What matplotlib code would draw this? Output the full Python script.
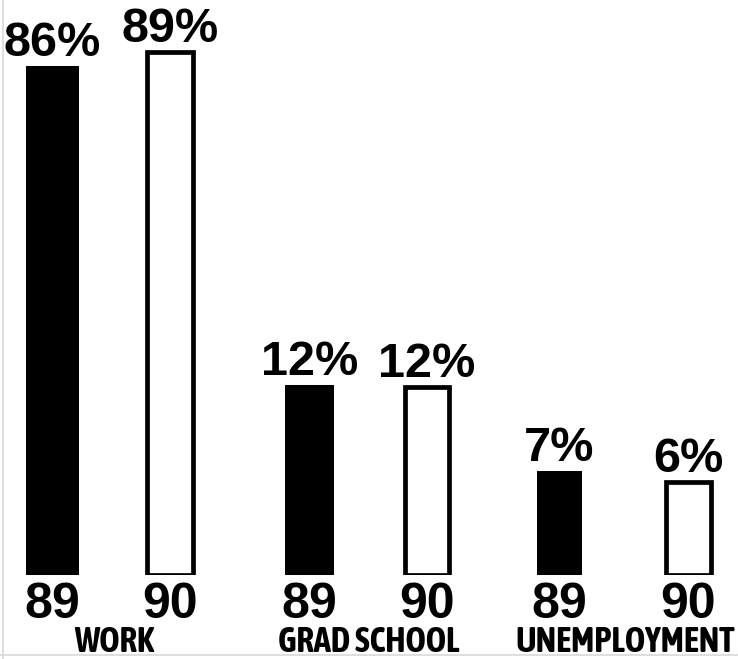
import matplotlib
matplotlib.use("Agg")
import matplotlib.pyplot as plt
from matplotlib.lines import Line2D
from matplotlib import font_manager

# ---- data ----
categories = ["WORK", "GRAD SCHOOL", "UNEMPLOYMENT"]
years = ["89", "90"]
pct_89 = [86, 12, 7]
pct_90 = [89, 12, 6]
# drawn bar heights (chart is not to scale across groups)
height_89 = [509, 190, 104]
height_90 = [523, 188, 93]

# ---- layout ----
W, H, DPI = 738, 659, 100
base_px = 575
x89 = [52, 309.5, 559.5]
x90 = [170, 427, 688.5]
bw89 = [53, 49, 45]
bw90 = [46, 44, 45]
cat_x = [114, 369, 625]

# pick a narrow bold face for the category labels if one is installed
narrow = None
for f in font_manager.fontManager.ttflist:
    if ("Narrow" in f.name or "Condensed" in f.name) and f.weight in ("bold", 700, "700"):
        narrow = f.name
        break
if narrow is None:
    for f in font_manager.fontManager.ttflist:
        if "Narrow" in f.name or "Condensed" in f.name:
            narrow = f.name
            break

fig = plt.figure(figsize=(W / DPI, H / DPI), dpi=DPI)
ax = fig.add_axes([0, (H - base_px) / H, 1, base_px / H])
ax.set_xlim(0, W)
ax.set_ylim(0, base_px)
ax.axis("off")

num_font = dict(family=["Liberation Sans", "DejaVu Sans"], fontweight="bold")
if narrow:
    cat_font = dict(family=[narrow, "Liberation Sans"], fontweight="bold", fontsize=25)
else:
    cat_font = dict(family=["Liberation Sans", "DejaVu Sans"], fontweight="bold", fontsize=18.5)

ax.bar(x89, height_89, width=bw89, color="black", edgecolor="black", linewidth=0)
ax.bar(x90, height_90, width=bw90, color="white", edgecolor="black", linewidth=3.4)

for xs, hs, ps in ((x89, height_89, pct_89), (x90, height_90, pct_90)):
    for x, h, p in zip(xs, hs, ps):
        ax.annotate(f"{p}%", (x, h), xytext=(0, 0), textcoords="offset points",
                    ha="center", va="bottom", fontsize=35, **num_font)

for xs, yr in ((x89, years[0]), (x90, years[1])):
    for x in xs:
        ax.annotate(yr, (x, 0), xytext=(0, -5), textcoords="offset points",
                    ha="center", va="top", fontsize=36, annotation_clip=False, **num_font)

for cx, c in zip(cat_x, categories):
    ax.annotate(c, (cx, 0), xytext=(0, -36), textcoords="offset points",
                ha="center", va="top", annotation_clip=False, **cat_font)

# faint scan frame lines
fig.add_artist(Line2D([3 / W, 3 / W], [0, 1], color="#d8d8d8", lw=1.2))
fig.add_artist(Line2D([0, 1], [4 / H, 4 / H], color="#d8d8d8", lw=1.2))

fig.savefig("out.png", dpi=DPI, facecolor="white")
